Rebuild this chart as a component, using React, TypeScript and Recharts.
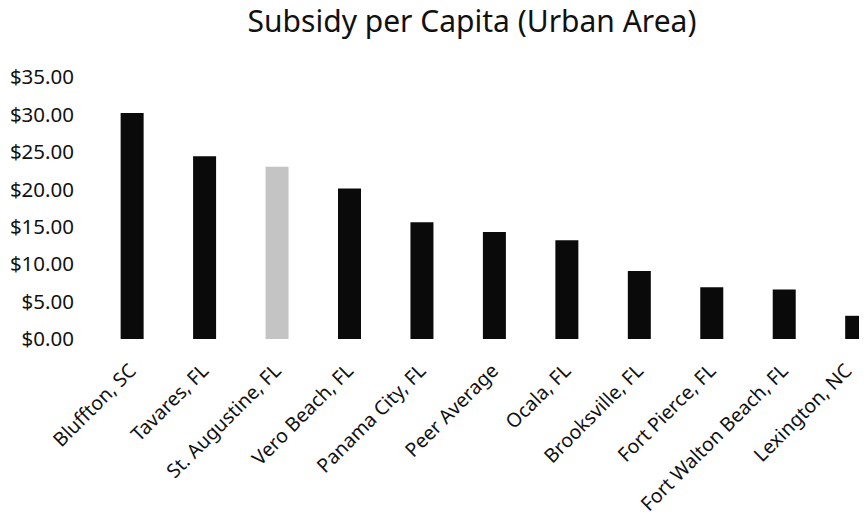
import { Bar, BarChart, Cell, XAxis, YAxis } from "recharts";

const CITIES = [
  "Bluffton, SC",
  "Tavares, FL",
  "St. Augustine, FL",
  "Vero Beach, FL",
  "Panama City, FL",
  "Peer Average",
  "Ocala, FL",
  "Brooksville, FL",
  "Fort Pierce, FL",
  "Fort Walton Beach, FL",
  "Lexington, NC",
];
const SUBSIDY = [30.2, 24.4, 23.0, 20.1, 15.6, 14.3, 13.2, 9.1, 6.9, 6.6, 3.1];
const HIGHLIGHT = "St. Augustine, FL";
const Y_TICKS = [0, 5, 10, 15, 20, 25, 30, 35];

const data = CITIES.map((city, i) => ({ city, subsidy: SUBSIDY[i] }));

const FONT = "'Noto Sans', sans-serif";

// keep the last rotated label inside the visible area, like the original does
function CityTick({ x, y, payload }: any) {
  const px = Math.min(x + 5, 845);
  const py = y + 25;
  return (
    <text
      x={px}
      y={py}
      transform={`rotate(-45, ${px}, ${py})`}
      textAnchor="end"
      fontSize={19.5}
      fontFamily={FONT}
      fill="#111"
    >
      {payload.value}
    </text>
  );
}

export default function App() {
  return (
    <div
      style={{
        position: "relative",
        width: 859,
        height: 518,
        marginTop: -8,
        overflow: "hidden",
        background: "#fff",
      }}
    >
      <svg width={859} height={60} style={{ position: "absolute", left: 0, top: 0 }}>
        <text x={464} y={32} textAnchor="middle" fontSize={30} fontFamily={FONT} fill="#111">
          Subsidy per Capita (Urban Area)
        </text>
      </svg>
      <BarChart
        width={900}
        height={518}
        data={data}
        margin={{ top: 77, right: 15, bottom: 0, left: 0 }}
        barCategoryGap="34%"
      >
        <XAxis
          dataKey="city"
          interval={0}
          axisLine={false}
          tickLine={false}
          height={179}
          tick={<CityTick />}
        />
        <YAxis
          domain={[0, 35]}
          ticks={Y_TICKS}
          width={88}
          axisLine={false}
          tickLine={false}
          tickSize={0}
          tickMargin={22}
          tickFormatter={(v: number) => `$${v.toFixed(2)}`}
          tick={{ fill: "#111", fontSize: 20.5, fontFamily: FONT }}
        />
        <Bar dataKey="subsidy" isAnimationActive={false}>
          {data.map((d) => (
            <Cell key={d.city} fill={d.city === HIGHLIGHT ? "#c4c4c4" : "#0a0a0a"} />
          ))}
        </Bar>
      </BarChart>
    </div>
  );
}
